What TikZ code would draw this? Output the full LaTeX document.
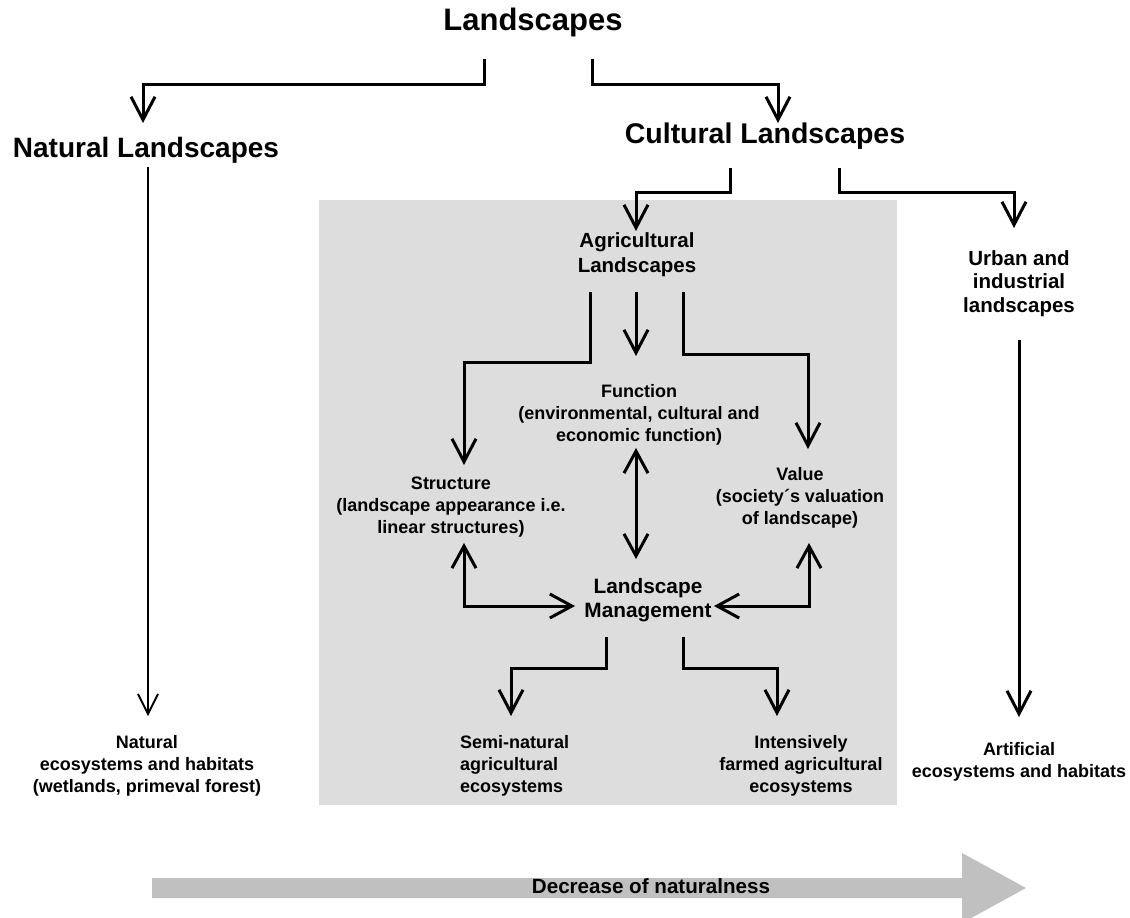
\documentclass[tikz,border=0pt]{standalone}
\usepackage{fontspec}
\setmainfont{Liberation Sans}
\usetikzlibrary{arrows.meta,calc}
\definecolor{panelgray}{RGB}{221,221,221}
\definecolor{bandgray}{RGB}{192,192,192}
\newcommand\fsz[2]{\fontsize{#1}{#2}\selectfont}
\begin{document}
\begin{tikzpicture}[x=1pt,y=-1pt,
  txt/.style={inner sep=0pt, outer sep=0pt, align=center, anchor=base},
  huge/.style={txt, font=\bfseries\fsz{31}{36}},
  head/.style={txt, font=\bfseries\fsz{28}{33}},
  mid/.style={txt, font=\bfseries\fsz{20.5}{24.5}},
  small/.style={txt, font=\bfseries\fsz{18}{21.7}},
  conn/.style={line width=3pt, -{Straight Barb[length=23pt,width=24pt]}},
  twoway/.style={line width=3pt, {Straight Barb[length=22pt,width=24pt]}-{Straight Barb[length=22pt,width=24pt]}},
  thinconn/.style={line width=1.9pt, -{Straight Barb[length=20pt,width=20pt]}}]

\clip (0,0) rectangle (1130,918);
\fill[white] (0,0) rectangle (1130,918);

% shaded panel of the agricultural branch
\fill[panelgray] (319,200) rectangle (897,805);

% arrow along the bottom
\fill[bandgray] (152,878) -- (962,878) -- (962,853) -- (1026,888)
  -- (962,923) -- (962,898) -- (152,898) -- cycle;

% labels (base = baseline of the last line)
\node[huge] (land) at (533,30) {Landscapes};
\node[head] (nat) at (146,157) {Natural Landscapes};
\node[head, font=\bfseries\fsz{28.5}{33}] (cult) at (765,143) {Cultural Landscapes};
\node[mid] (agr) at (637,272) {Agricultural\\Landscapes};
\node[mid, font=\bfseries\fsz{20.5}{23.5}] (urb) at (1019,312) {Urban and\\industrial\\landscapes};
\node[small] (func) at (639,441) {Function\\(environmental, cultural and\\economic function)};
\node[small] (struct) at (451,533) {Structure\\(landscape appearance i.e.\\linear structures)};
\node[small] (val) at (800,524) {Value\\(society´s valuation\\of landscape)};
\node[mid, font=\bfseries\fsz{20.8}{24}] (mgmt) at (648,617) {Landscape\\Management};
\node[small, align=left, anchor=base west, font=\bfseries\fsz{18}{22}] (semi) at (460,792) {Semi-natural\\agricultural\\ecosystems};
\node[small, font=\bfseries\fsz{18}{22}] (inten) at (801,792) {Intensively\\farmed agricultural\\ecosystems};
\node[small] (nateco) at (147,792) {Natural\\ecosystems and habitats\\(wetlands, primeval forest)};
\node[small, font=\bfseries\fsz{18}{22}] (arteco) at (1019,777) {Artificial\\ecosystems and habitats};
\node[mid, font=\bfseries\fsz{20.6}{24}] (dec) at (651,893) {Decrease of naturalness};

% top level split
\draw[conn] (land.base) ++(-49,29) -- ++(0,25) -| ($(nat.base)+(-3,-34)$);
\draw[conn] (land.base) ++(59,29) -- ++(0,25) -| ($(cult.base)+(13,-20)$);

% natural branch
\draw[thinconn] ($(nat.base)+(2,10)$) -- ($(nateco.base)+(1,-76)$);

% cultural branch
\draw[conn] (cult.base) ++(-35,25) -- ++(0,24) -| ($(agr.base)+(-1,-41)$);
\draw[conn] (cult.base) ++(74,25) -- ++(0,24) -| ($(urb.base)+(-5,-84)$);

% urban branch
\draw[conn] ($(urb.base)+(0,28)$) -- ($(arteco.base)+(0,-60)$);

% agricultural landscapes to its three aspects
\draw[conn] (agr.base) ++(-47,20) -- ++(0,70) -| ($(struct.base)+(13,-68)$);
\draw[conn] ($(agr.base)+(-1,20)$) -- ($(func.base)+(-3,-85)$);
\draw[conn] (agr.base) ++(46,20) -- ++(0,62) -| ($(val.base)+(8,-75)$);

% aspects and landscape management
\draw[twoway] ($(func.base)+(-3,7)$) -- ($(mgmt.base)+(-12,-58)$);
\draw[twoway] ($(struct.base)+(13,10)$) |- ($(mgmt.base)+(-73,-11)$);
\draw[twoway] ($(val.base)+(9,19)$) |- ($(mgmt.base)+(66,-11)$);

% management outcomes
\draw[conn] (mgmt.base) ++(-42,20) -- ++(0,31) -| ($(semi.base west)+(51,-76)$);
\draw[conn] (mgmt.base) ++(35,20) -- ++(0,31) -| ($(inten.base)+(-24,-76)$);

\end{tikzpicture}
\end{document}
